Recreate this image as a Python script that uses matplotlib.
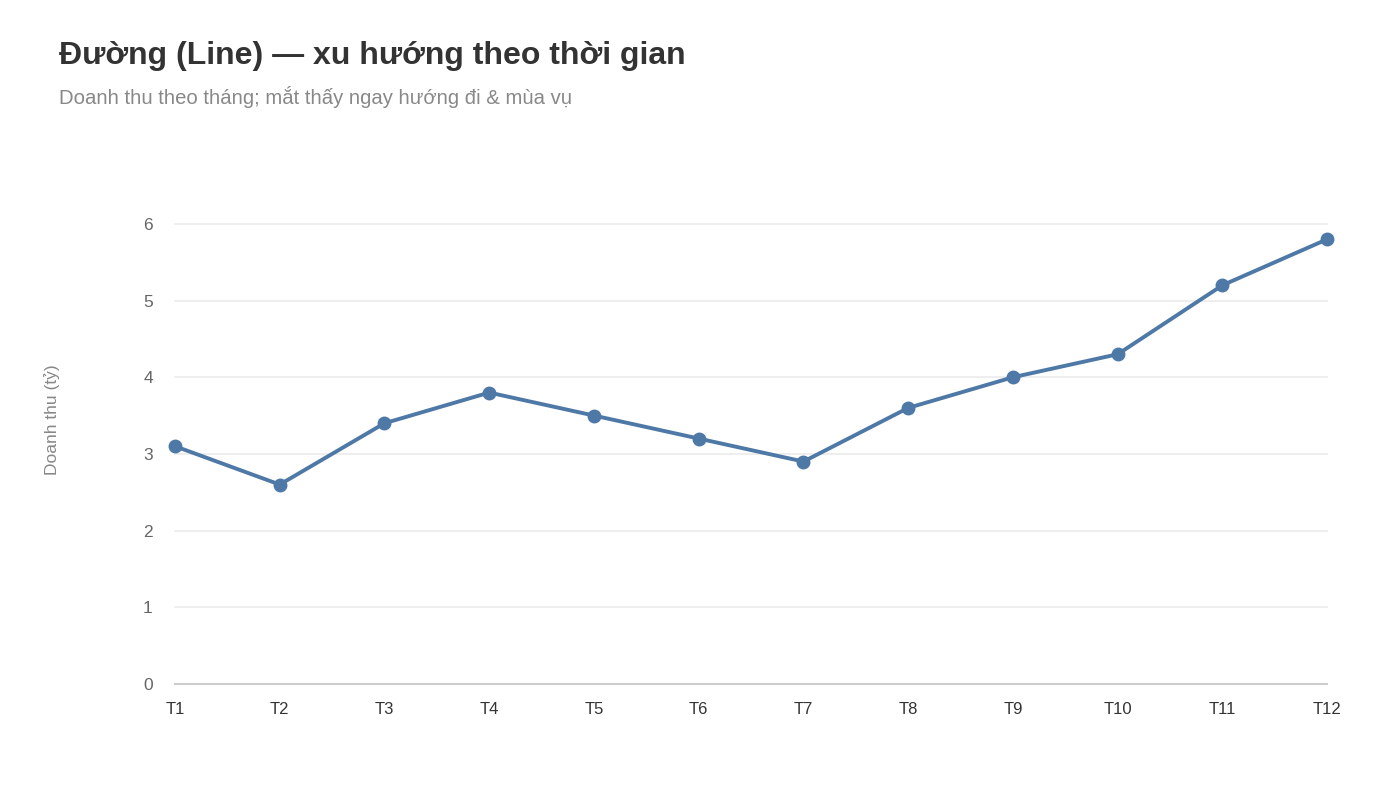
import matplotlib
matplotlib.use("Agg")
import matplotlib.pyplot as plt

months = ["T1", "T2", "T3", "T4", "T5", "T6", "T7", "T8", "T9", "T10", "T11", "T12"]
revenue = [3.1, 2.6, 3.4, 3.8, 3.5, 3.2, 2.9, 3.6, 4.0, 4.3, 5.2, 5.8]
y_ticks = [0, 1, 2, 3, 4, 5, 6]

plt.rcParams['font.family'] = ['Liberation Sans', 'DejaVu Sans']

fig = plt.figure(figsize=(14, 7.87), dpi=100)
ax = fig.add_axes([0.125, 0.131, 0.823, 0.5845])

x = list(range(len(months)))
ax.plot(x, revenue, color="#4e79a7", linewidth=2.8, marker="o", markersize=9,
        clip_on=False, zorder=3)

ax.set_xlim(0, len(months) - 1)
ax.set_ylim(0, 6)
ax.set_yticks(y_ticks)
ax.set_yticklabels([str(t) for t in y_ticks])
ax.set_xticks(x)
ax.set_xticklabels(months)

ax.grid(axis="y", color="#ebebeb", linewidth=1.2)
for gl in ax.get_ygridlines():
    gl.set_clip_on(False)
ax.set_axisbelow(True)
for s in ["top", "right", "left"]:
    ax.spines[s].set_visible(False)
ax.spines["bottom"].set_color("#cccccc")
ax.spines["bottom"].set_linewidth(1.5)

ax.tick_params(axis="both", length=0)
ax.tick_params(axis="y", labelsize=12.5, labelcolor="#666666", pad=16)
ax.tick_params(axis="x", labelsize=12, labelcolor="#333333", pad=13)

ax.set_ylabel("Doanh thu (tỷ)", fontsize=12.5, color="#888888")
ax.yaxis.set_label_coords(-0.1, 0.575)

fig.text(0.042, 0.929, "Đường (Line) — xu hướng theo thời gian", fontsize=23,
         fontweight="bold", color="#333333", va="center", ha="left")
fig.text(0.042, 0.877, "Doanh thu theo tháng; mắt thấy ngay hướng đi & mùa vụ",
         fontsize=14.6, color="#888888", va="center", ha="left")

fig.savefig("out.png", dpi=100)
